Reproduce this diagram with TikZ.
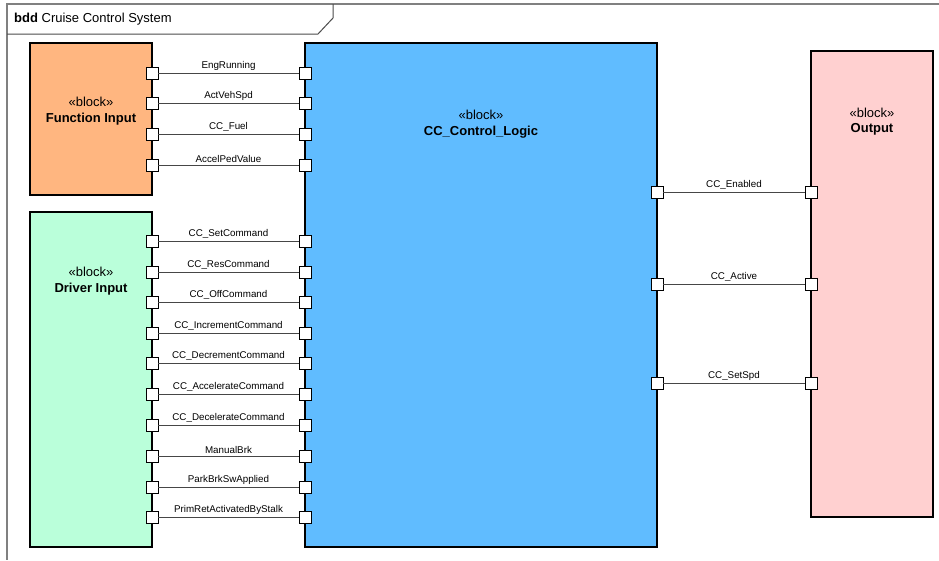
\documentclass[tikz,border=0pt]{standalone}
\usepackage{fontspec}
\setmainfont{Liberation Sans}
\usetikzlibrary{shadows}
\definecolor{fiorange}{RGB}{255,182,128}
\definecolor{drvmint}{RGB}{186,255,218}
\definecolor{ctlblue}{RGB}{96,188,255}
\definecolor{outpink}{RGB}{255,208,208}
\definecolor{framegray}{RGB}{128,128,128}
\definecolor{wiregray}{RGB}{70,70,70}
\begin{document}
\begin{tikzpicture}[x=1pt,y=-1pt,
  blockbox/.style={draw=black, line width=1.2pt, inner sep=0pt,
    drop shadow={shadow xshift=1.2pt, shadow yshift=-1.2pt, fill=black!55, opacity=1}},
  stereo/.style={font=\fontsize{13}{15}\selectfont},
  bname/.style={font=\fontsize{13}{15}\selectfont\bfseries},
  portbox/.style={draw=black, fill=white, line width=0.9pt, minimum size=12pt, inner sep=0pt},
  wire/.style={draw=wiregray, line width=1pt},
  wlabel/.style={midway, above, inner sep=2.2pt, font=\fontsize{9.8}{11}\selectfont}]
\useasboundingbox (0,0) rectangle (939,560);
\fill[white] (0,0) rectangle (939,560);

% diagram frame and name tab
\draw[framegray, line width=1.5pt] (939,4) -- (7,4) -- (7,560);
\draw[black!70, line width=1pt] (7,34) -- (318,34) -- (333,18) -- (333,4);
\node[anchor=west, inner sep=0pt, font=\fontsize{13}{15}\selectfont] (title) at (14,19)
  {\textbf{bdd} Cruise Control System};

% blocks
\path[blockbox, fill=fiorange] (30,43) rectangle (152,195);
\path[blockbox, fill=drvmint] (30,212) rectangle (152,547);
\path[blockbox, fill=ctlblue] (305,43) rectangle (657,547);
\path[blockbox, fill=outpink] (811,51) rectangle (933,517);

\node[stereo] (fis) at (91,102) {«block»};
\node[bname] (fin) at (91,119) {Function Input};
\node[stereo] (drs) at (91,272) {«block»};
\node[bname] (drn) at (91,289) {Driver Input};
\node[stereo] (cls) at (481,115) {«block»};
\node[bname] (cln) at (481,132) {CC\_Control\_Logic};
\node[stereo] (ous) at (872,113) {«block»};
\node[bname] (oun) at (872,129) {Output};

% ports on the input side
\foreach \n/\y in {1/73,2/103,3/134,4/165} {
  \node[portbox] (fp\n) at (152,\y) {};
  \node[portbox] (cf\n) at (305,\y) {};
}
\foreach \n/\y in {1/241,2/272,3/302,4/333,5/363,6/394,7/425,8/456,9/487,10/517} {
  \node[portbox] (dp\n) at (152,\y) {};
  \node[portbox] (cd\n) at (305,\y) {};
}
% ports on the output side
\foreach \n/\y in {1/192,2/284,3/383} {
  \node[portbox] (co\n) at (657,\y) {};
  \node[portbox] (op\n) at (811,\y) {};
}

% connectors
\draw[wire] (fp1) -- (cf1) node[wlabel] {EngRunning};
\draw[wire] (fp2) -- (cf2) node[wlabel] {ActVehSpd};
\draw[wire] (fp3) -- (cf3) node[wlabel] {CC\_Fuel};
\draw[wire] (fp4) -- (cf4) node[wlabel] {AccelPedValue};

\draw[wire] (dp1) -- (cd1) node[wlabel] {CC\_SetCommand};
\draw[wire] (dp2) -- (cd2) node[wlabel] {CC\_ResCommand};
\draw[wire] (dp3) -- (cd3) node[wlabel] {CC\_OffCommand};
\draw[wire] (dp4) -- (cd4) node[wlabel] {CC\_IncrementCommand};
\draw[wire] (dp5) -- (cd5) node[wlabel] {CC\_DecrementCommand};
\draw[wire] (dp6) -- (cd6) node[wlabel] {CC\_AccelerateCommand};
\draw[wire] (dp7) -- (cd7) node[wlabel] {CC\_DecelerateCommand};
\draw[wire] (dp8) -- (cd8) node[wlabel] {ManualBrk};
\draw[wire] (dp9) -- (cd9) node[wlabel] {ParkBrkSwApplied};
\draw[wire] (dp10) -- (cd10) node[wlabel] {PrimRetActivatedByStalk};

\draw[wire] (co1) -- (op1) node[wlabel] {CC\_Enabled};
\draw[wire] (co2) -- (op2) node[wlabel] {CC\_Active};
\draw[wire] (co3) -- (op3) node[wlabel] {CC\_SetSpd};
\end{tikzpicture}
\end{document}
